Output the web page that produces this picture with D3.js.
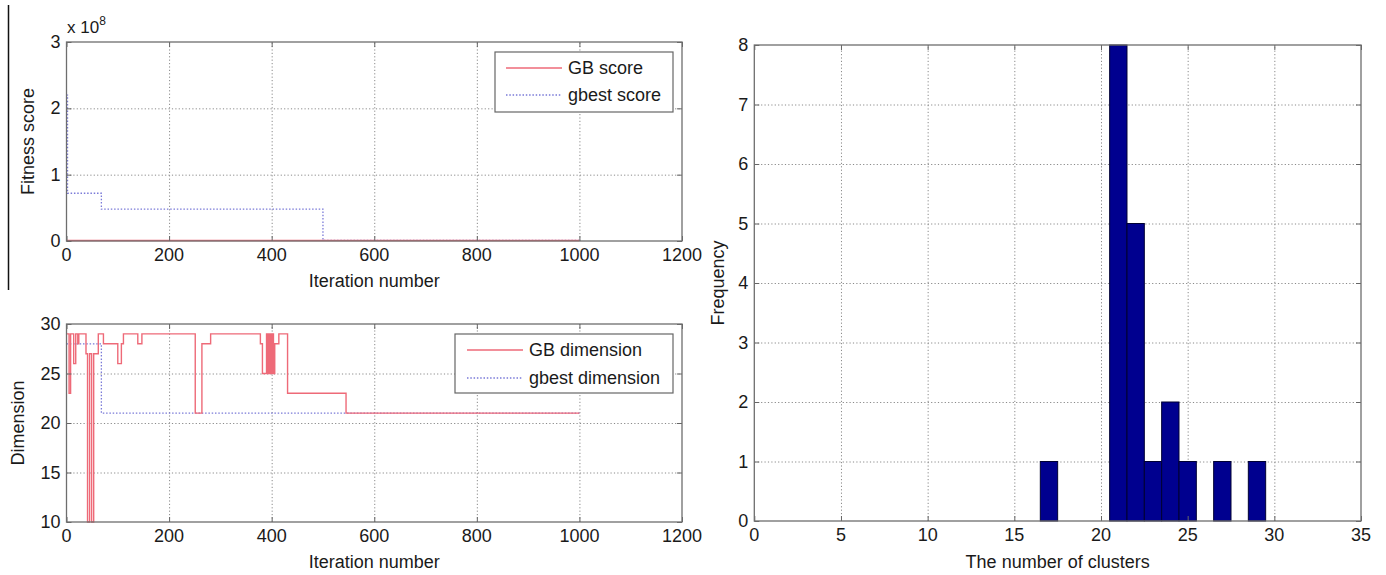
<!DOCTYPE html>
<html><head><meta charset="utf-8">
<script src="https://cdn.jsdelivr.net/npm/d3@7"></script>
<style>
body{margin:0;background:#fff;}
svg{display:block;}
text{font-family:"Liberation Sans",Arial,Helvetica,sans-serif;fill:#1a1a1a;}
</style></head>
<body>
<svg id="chart" width="1386" height="575"></svg>
<script>
// ---------- DATA ----------
const iterTicks = [0, 200, 400, 600, 800, 1000, 1200];
const scoreTicks = [0, 1, 2, 3];            // x 10^8
const dimTicks = [10, 15, 20, 25, 30];
const clusterTicks = [0, 5, 10, 15, 20, 25, 30, 35];
const freqTicks = [0, 1, 2, 3, 4, 5, 6, 7, 8];

// Fitness score (units of 1e8), step-after
const gbScoreIter = [0, 1000];
const gbScoreVal  = [0.006, 0.006];
const gbestScoreIter = [0, 2, 68, 500, 1000];
const gbestScoreVal  = [2.2, 0.72, 0.48, 0.01, 0.01];

// Dimension, step-after
const gbDimIter = [0, 5, 8, 14, 18, 22, 24, 38, 41, 45, 49, 53, 62, 72, 100, 107, 111, 139, 147, 251, 264, 281, 378, 382, 390, 391, 392.5, 393.5, 395, 396, 397.5, 398.5, 400, 401, 402.5, 403.5, 406, 414, 431, 545, 1000];
const gbDimVal  = [29, 23, 29, 26, 29, 28, 29, 27, 10, 27, 10, 27, 29, 28, 26, 28, 29, 28, 29, 21, 28, 29, 28, 25, 29, 25, 29, 25, 29, 25, 29, 25, 29, 25, 29, 25, 28, 29, 23, 21, 21];
const gbestDimIter = [0, 68, 1000];
const gbestDimVal  = [28, 21, 21];

// Histogram: number of clusters (bin centres) and frequency
const clusterBins = [17, 18, 19, 20, 21, 22, 23, 24, 25, 26, 27, 28, 29];
const clusterFreq = [1, 0, 0, 0, 8, 5, 1, 2, 1, 0, 1, 0, 1];

// ---------- DRAW ----------
const svg = d3.select("#chart");
const RED = "#ee6a78", BLUE = "#7a7ad8";
const FONT = 18;

// crop artifact line on the far left
svg.append("line").attr("x1", 8.5).attr("x2", 8.5).attr("y1", 5).attr("y2", 290)
  .attr("stroke", "#111").attr("stroke-width", 1.5);

function frame(box, x, y, xt, yt, xfmt, yfmt) {
  const g = svg.append("g");
  const w = box.r - box.l, h = box.b - box.t;
  // grid
  g.append("g").attr("transform", `translate(0,${box.b})`)
    .call(d3.axisBottom(x).tickValues(xt.filter(v => v !== x.domain()[0] && v !== x.domain()[1])).tickSize(-h).tickFormat(""))
    .call(s => s.select(".domain").remove())
    .call(s => s.selectAll("line").attr("stroke", "#8a8a8a").attr("stroke-dasharray", "1.2,2.2"));
  g.append("g").attr("transform", `translate(${box.l},0)`)
    .call(d3.axisLeft(y).tickValues(yt.filter(v => v !== y.domain()[0] && v !== y.domain()[1])).tickSize(-w).tickFormat(""))
    .call(s => s.select(".domain").remove())
    .call(s => s.selectAll("line").attr("stroke", "#8a8a8a").attr("stroke-dasharray", "1.2,2.2"));
  return g;
}

function axesOver(box, x, y, xt, yt, xfmt, yfmt) {
  const g = svg.append("g");
  const tk = 5;
  // inner ticks on all sides
  const ax = [
    [d3.axisBottom(x).tickValues(xt).tickSize(-tk), `translate(0,${box.b})`],
    [d3.axisTop(x).tickValues(xt).tickSize(-tk), `translate(0,${box.t})`],
    [d3.axisLeft(y).tickValues(yt).tickSize(-tk), `translate(${box.l},0)`],
    [d3.axisRight(y).tickValues(yt).tickSize(-tk), `translate(${box.r},0)`]
  ];
  ax.forEach(([a, tr]) => {
    g.append("g").attr("transform", tr).call(a.tickFormat(""))
      .call(s => s.select(".domain").remove())
      .call(s => s.selectAll("line").attr("stroke", "#666"));
  });
  g.append("rect").attr("x", box.l).attr("y", box.t).attr("width", box.r - box.l).attr("height", box.b - box.t)
    .attr("fill", "none").attr("stroke", "#6e6e6e").attr("stroke-width", 1.3);
  // labels
  g.selectAll(".xl").data(xt).join("text")
    .attr("x", d => x(d)).attr("y", box.b + 20).attr("text-anchor", "middle")
    .attr("font-size", FONT).text(xfmt);
  g.selectAll(".yl").data(yt).join("text")
    .attr("x", box.l - 6).attr("y", d => y(d) + 6).attr("text-anchor", "end")
    .attr("font-size", FONT).text(yfmt);
  return g;
}

function legend(bx, entries) {
  const g = svg.append("g");
  g.append("rect").attr("x", bx.x).attr("y", bx.y).attr("width", bx.w).attr("height", bx.h)
    .attr("fill", "#fff").attr("stroke", "#666").attr("stroke-width", 1.2);
  entries.forEach((e, i) => {
    const yy = bx.y + bx.rowY[i];
    g.append("line").attr("x1", bx.x + bx.lx0).attr("x2", bx.x + bx.lx1).attr("y1", yy).attr("y2", yy)
      .attr("stroke", e.color).attr("stroke-width", 1.3).attr("stroke-dasharray", e.dash || null);
    g.append("text").attr("x", bx.x + bx.tx).attr("y", yy + 6).attr("font-size", FONT).text(e.label);
  });
}

// ----- Top-left: fitness score -----
{
  const box = {l: 66.5, t: 42, r: 682, b: 241};
  const x = d3.scaleLinear().domain([0, 1200]).range([box.l, box.r]);
  const y = d3.scaleLinear().domain([0, 3]).range([box.b, box.t]);
  frame(box, x, y, iterTicks, scoreTicks);
  const line = d3.line().curve(d3.curveStepAfter).x(d => x(d[0])).y(d => y(d[1]));
  svg.append("path").datum(gbestScoreIter.map((v, i) => [v, gbestScoreVal[i]]))
    .attr("d", line).attr("fill", "none").attr("stroke", BLUE).attr("stroke-width", 1.3).attr("stroke-dasharray", "1.5,1.8");
  svg.append("path").datum(gbScoreIter.map((v, i) => [v, gbScoreVal[i]]))
    .attr("d", line).attr("fill", "none").attr("stroke", RED).attr("stroke-width", 1.5);
  axesOver(box, x, y, iterTicks, scoreTicks, d => d, d => d);
  const ex = svg.append("text").attr("x", 67).attr("y", 33).attr("font-size", FONT - 1);
  ex.append("tspan").text("x 10");
  ex.append("tspan").attr("font-size", 12).attr("dy", -8).text("8");
  svg.append("text").attr("transform", `translate(34,${(box.t + box.b) / 2}) rotate(-90)`)
    .attr("text-anchor", "middle").attr("font-size", FONT).text("Fitness score");
  svg.append("text").attr("x", (box.l + box.r) / 2).attr("y", 287).attr("text-anchor", "middle")
    .attr("font-size", FONT).text("Iteration number");
  legend({x: 495, y: 52, w: 178, h: 60, rowY: [16, 43], lx0: 11, lx1: 67, tx: 73},
    [{label: "GB score", color: RED}, {label: "gbest score", color: BLUE, dash: "1.5,1.8"}]);
}

// ----- Bottom-left: dimension -----
{
  const box = {l: 66.5, t: 324, r: 682, b: 522};
  const x = d3.scaleLinear().domain([0, 1200]).range([box.l, box.r]);
  const y = d3.scaleLinear().domain([10, 30]).range([box.b, box.t]);
  frame(box, x, y, iterTicks, dimTicks);
  const line = d3.line().curve(d3.curveStepAfter).x(d => x(d[0])).y(d => y(d[1]));
  svg.append("path").datum(gbestDimIter.map((v, i) => [v, gbestDimVal[i]]))
    .attr("d", line).attr("fill", "none").attr("stroke", BLUE).attr("stroke-width", 1.3).attr("stroke-dasharray", "1.5,1.8");
  svg.append("path").datum(gbDimIter.map((v, i) => [v, gbDimVal[i]]))
    .attr("d", line).attr("fill", "none").attr("stroke", RED).attr("stroke-width", 1.4);
  axesOver(box, x, y, iterTicks, dimTicks, d => d, d => d);
  svg.append("text").attr("transform", `translate(24,${(box.t + box.b) / 2}) rotate(-90)`)
    .attr("text-anchor", "middle").attr("font-size", FONT).text("Dimension");
  svg.append("text").attr("x", (box.l + box.r) / 2).attr("y", 568).attr("text-anchor", "middle")
    .attr("font-size", FONT).text("Iteration number");
  legend({x: 455, y: 334, w: 218, h: 59, rowY: [16, 44], lx0: 12, lx1: 68, tx: 74},
    [{label: "GB dimension", color: RED}, {label: "gbest dimension", color: BLUE, dash: "1.5,1.8"}]);
}

// ----- Right: histogram -----
{
  const box = {l: 754.3, t: 45, r: 1361, b: 521};
  const x = d3.scaleLinear().domain([0, 35]).range([box.l, box.r]);
  const y = d3.scaleLinear().domain([0, 8]).range([box.b, box.t]);
  frame(box, x, y, clusterTicks, freqTicks);
  svg.append("g").selectAll("rect").data(clusterBins.map((c, i) => ({c, f: clusterFreq[i]})).filter(d => d.f > 0))
    .join("rect")
    .attr("x", d => x(d.c - 0.5)).attr("width", d => x(d.c + 0.5) - x(d.c - 0.5))
    .attr("y", d => y(d.f)).attr("height", d => y(0) - y(d.f))
    .attr("fill", "#00008f").attr("stroke", "#000033").attr("stroke-width", 1);
  axesOver(box, x, y, clusterTicks, freqTicks, d => d, d => d);
  svg.append("text").attr("transform", `translate(724,${(box.t + box.b) / 2}) rotate(-90)`)
    .attr("text-anchor", "middle").attr("font-size", FONT).text("Frequency");
  svg.append("text").attr("x", (box.l + box.r) / 2).attr("y", 568).attr("text-anchor", "middle")
    .attr("font-size", FONT).text("The number of clusters");
}
</script>
</body></html>
